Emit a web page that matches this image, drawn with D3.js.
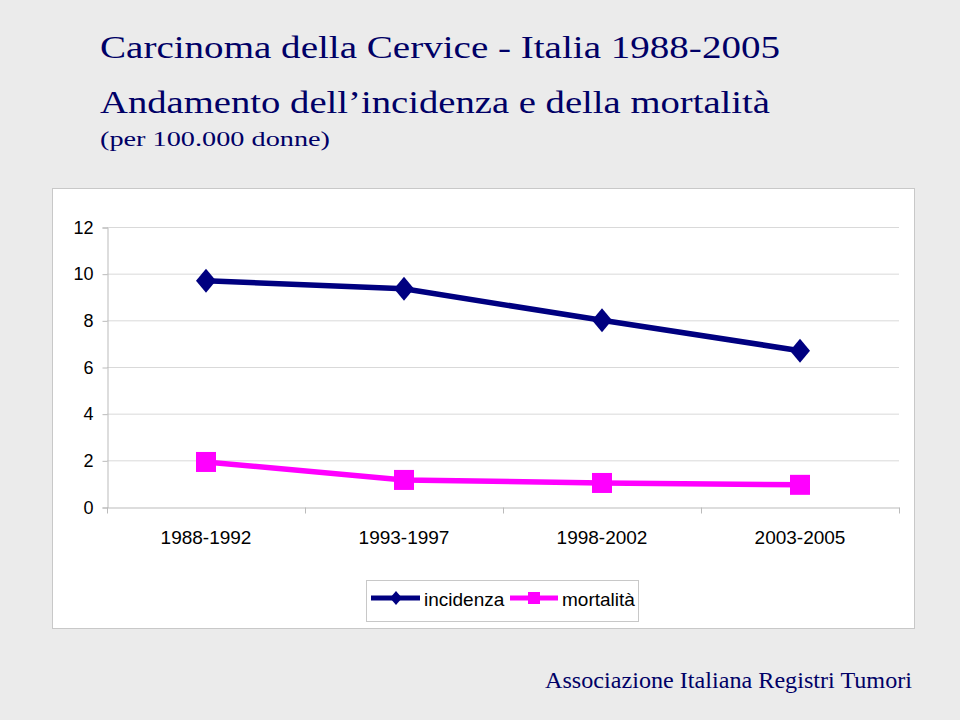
<!DOCTYPE html>
<html>
<head>
<meta charset="utf-8" />
<title>Carcinoma della Cervice</title>
<script src="https://d3js.org/d3.v7.min.js"></script>
<style>
body { margin:0; background:#ebebeb; }
.titolo { font-family:"Liberation Serif", serif; fill:#000066; }
.asse text { font-family:"Liberation Sans", Arial, sans-serif; fill:#000; }
</style>
</head>
<body>
<svg id="grafico" width="960" height="720"></svg>
<script>
// dati
var periodi = ["1988-1992", "1993-1997", "1998-2002", "2003-2005"];
var incidenza = [9.7, 9.35, 8.0, 6.7];
var mortalita = [1.93, 1.16, 1.03, 0.95];
var yTicks = [0, 2, 4, 6, 8, 10, 12];

var svg = d3.select("#grafico");

svg.append("rect").attr("width", 960).attr("height", 720).attr("fill", "#ebebeb");

// titoli
svg.append("text").attr("class", "titolo")
    .attr("x", 100).attr("y", 58).attr("font-size", 31)
    .attr("textLength", 680).attr("lengthAdjust", "spacingAndGlyphs")
    .text("Carcinoma della Cervice  -  Italia 1988-2005");
svg.append("text").attr("class", "titolo")
    .attr("x", 100).attr("y", 113).attr("font-size", 31)
    .attr("textLength", 670).attr("lengthAdjust", "spacingAndGlyphs")
    .text("Andamento dell\u2019incidenza e della mortalità");
svg.append("text").attr("class", "titolo")
    .attr("x", 100).attr("y", 146).attr("font-size", 21)
    .attr("textLength", 230).attr("lengthAdjust", "spacingAndGlyphs")
    .text("(per 100.000 donne)");
svg.append("text").attr("class", "titolo")
    .attr("x", 545).attr("y", 688).attr("font-size", 23)
    .attr("textLength", 367).attr("lengthAdjust", "spacingAndGlyphs")
    .text("Associazione Italiana Registri Tumori");

// riquadro grafico
svg.append("rect")
    .attr("x", 52.5).attr("y", 188.5).attr("width", 862).attr("height", 440)
    .attr("fill", "#fff").attr("stroke", "#c8c8c8");

var margin = {left: 107, right: 899, top: 227, bottom: 507};

var x = d3.scaleBand().domain(periodi).range([margin.left, margin.right]);
var y = d3.scaleLinear().domain([0, 12]).range([margin.bottom, margin.top]);

// griglia
svg.append("g").selectAll("line").data(yTicks.slice(1)).enter().append("line")
    .attr("x1", margin.left).attr("x2", margin.right)
    .attr("y1", function(d){ return y(d) + 0.5; })
    .attr("y2", function(d){ return y(d) + 0.5; })
    .attr("stroke", "#d9d9d9");

// asse Y
var gy = svg.append("g").attr("class", "asse")
    .attr("transform", "translate(" + (margin.left + 0.5) + ",0.5)")
    .call(d3.axisLeft(y).tickValues(yTicks).tickSize(5).tickPadding(9));
gy.selectAll("line").attr("stroke", "#bbb");
gy.select(".domain").attr("stroke", "#bbb");
gy.selectAll("text").attr("font-size", 18);

// asse X
var gx = svg.append("g").attr("class", "asse")
    .attr("transform", "translate(0," + (margin.bottom + 0.5) + ")")
    .call(d3.axisBottom(x).tickSize(0).tickPadding(23).tickSizeOuter(0));
gx.select(".domain").attr("stroke", "#bbb");
gx.selectAll("text").attr("font-size", 19);
// tacche tra le categorie
var confini = periodi.map(function(p){ return x(p); }).concat([margin.right]);
gx.selectAll("line.tacca").data(confini).enter().append("line")
    .attr("class", "tacca")
    .attr("x1", function(d){ return d + 0.5; }).attr("x2", function(d){ return d + 0.5; })
    .attr("y1", 0).attr("y2", 6).attr("stroke", "#bbb");

var cx = function(d, i){ return x(periodi[i]) + x.bandwidth() / 2; };

var linea = d3.line()
    .x(function(d, i){ return cx(d, i); })
    .y(function(d){ return y(d); });

svg.append("path").datum(incidenza).attr("d", linea)
    .attr("fill", "none").attr("stroke", "#000080").attr("stroke-width", 5.5);
svg.append("path").datum(mortalita).attr("d", linea)
    .attr("fill", "none").attr("stroke", "#ff00ff").attr("stroke-width", 5.5);

var rombo = "M0,-12L10,0L0,12L-10,0Z";
svg.append("g").selectAll("path").data(incidenza).enter().append("path")
    .attr("d", rombo)
    .attr("transform", function(d, i){ return "translate(" + cx(d, i) + "," + y(d) + ")"; })
    .attr("fill", "#000080");

svg.append("g").selectAll("rect").data(mortalita).enter().append("rect")
    .attr("x", function(d, i){ return cx(d, i) - 10; })
    .attr("y", function(d){ return y(d) - 10; })
    .attr("width", 20).attr("height", 20)
    .attr("fill", "#ff00ff");

// legenda
var leg = svg.append("g");
leg.append("rect").attr("x", 366.5).attr("y", 580.5).attr("width", 272).attr("height", 41)
    .attr("fill", "#fff").attr("stroke", "#c8c8c8");
leg.append("line").attr("x1", 371).attr("x2", 420).attr("y1", 598).attr("y2", 598)
    .attr("stroke", "#000080").attr("stroke-width", 5);
leg.append("path").attr("d", "M0,-7L6,0L0,7L-6,0Z").attr("transform", "translate(396,598)")
    .attr("fill", "#000080");
leg.append("text").attr("x", 424).attr("y", 606).attr("font-size", 19)
    .attr("font-family", "Liberation Sans, Arial, sans-serif").text("incidenza");
leg.append("line").attr("x1", 510).attr("x2", 558).attr("y1", 598).attr("y2", 598)
    .attr("stroke", "#ff00ff").attr("stroke-width", 5);
leg.append("rect").attr("x", 528).attr("y", 592).attr("width", 12).attr("height", 12)
    .attr("fill", "#ff00ff");
leg.append("text").attr("x", 562).attr("y", 606).attr("font-size", 19)
    .attr("font-family", "Liberation Sans, Arial, sans-serif").text("mortalità");
</script>
</body>
</html>
